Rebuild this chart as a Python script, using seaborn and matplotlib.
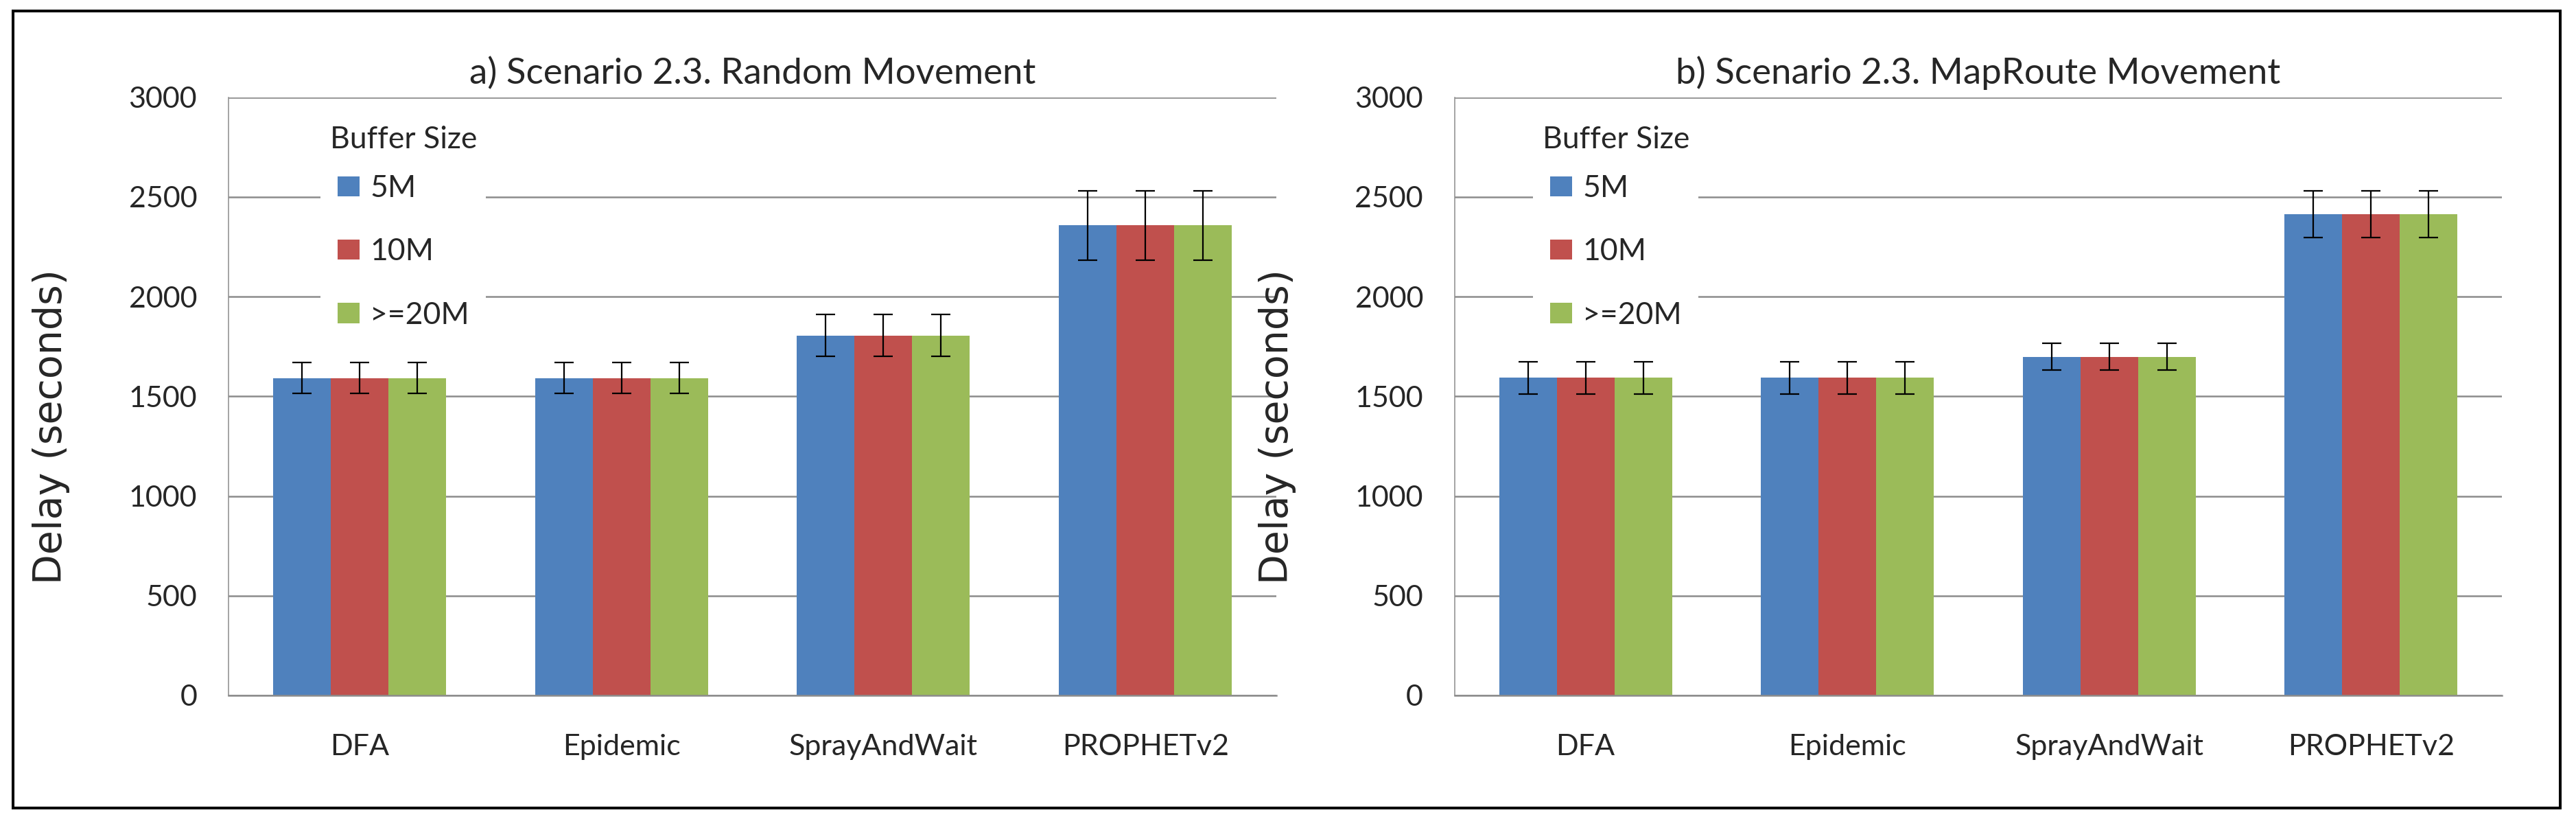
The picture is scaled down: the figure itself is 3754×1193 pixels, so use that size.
import matplotlib
matplotlib.use("Agg")
import matplotlib.pyplot as plt
from matplotlib.patches import Rectangle
from matplotlib.container import BarContainer
from matplotlib.ticker import FixedLocator, MultipleLocator
import pandas as pd
import seaborn as sns

# Categories
protocols = ["DFA", "Epidemic", "SprayAndWait", "PROPHETv2"]
buffer_sizes = ["5M", "10M", ">=20M"]

# a) Random Movement - mean delay (s) per buffer size, and error
random_5m = [1592, 1592, 1805, 2357]
random_10m = [1592, 1592, 1805, 2357]
random_20m = [1592, 1592, 1805, 2357]
random_err = [76, 76, 104, 173]

# b) MapRoute Movement
maproute_5m = [1593, 1593, 1698, 2414]
maproute_10m = [1593, 1593, 1698, 2414]
maproute_20m = [1593, 1593, 1698, 2414]
maproute_err = [80, 80, 67, 116]

titles = ["a) Scenario 2.3. Random Movement", "b) Scenario 2.3. MapRoute Movement"]
colors = ["#4F81BD", "#C0504D", "#9BBB59"]
grid_gray = "#8c8c8c"

sns.set_style("white")
plt.rcParams["font.family"] = ["Lato", "DejaVu Sans"]


def make_df(v5, v10, v20):
    rows = []
    for size, vals in zip(buffer_sizes, [v5, v10, v20]):
        for p, v in zip(protocols, vals):
            rows.append({"protocol": p, "buffer": size, "delay": v})
    return pd.DataFrame(rows)


panels = [
    (make_df(random_5m, random_10m, random_20m), random_err, titles[0]),
    (make_df(maproute_5m, maproute_10m, maproute_20m), maproute_err, titles[1]),
]

fig = plt.figure(figsize=(37.54, 11.93), dpi=100)
ax_rects = [[0.0887, 0.1509, 0.4068, 0.7304], [0.5647, 0.1509, 0.4065, 0.7304]]
legend_x = [0.088, 0.075]

for i, (df, errs, title) in enumerate(panels):
    ax = fig.add_axes(ax_rects[i])
    sns.barplot(data=df, x="protocol", y="delay", hue="buffer",
                order=protocols, hue_order=buffer_sizes, palette=colors,
                width=0.66, errorbar=None, saturation=1, linewidth=0, ax=ax)

    # error bars on top of each bar
    bar_groups = [c for c in ax.containers if isinstance(c, BarContainer)]
    for cont in bar_groups:
        for bar, err in zip(cont, errs):
            xc = bar.get_x() + bar.get_width() / 2
            ax.errorbar(xc, bar.get_height(), yerr=err, fmt="none",
                        ecolor="black", elinewidth=1.6, capsize=10, capthick=1.6,
                        zorder=5)

    ax.set_xlim(-0.5, 3.5)
    ax.set_ylim(0, 3000)
    ax.yaxis.set_major_locator(MultipleLocator(500))
    ax.xaxis.set_minor_locator(FixedLocator([-0.5, 0.5, 1.5, 2.5, 3.5]))

    ax.set_axisbelow(True)
    ax.yaxis.grid(True, color=grid_gray, linewidth=1.8)
    ax.xaxis.grid(False)

    for side in ["top", "right"]:
        ax.spines[side].set_visible(False)
    ax.spines["left"].set_color(grid_gray)
    ax.spines["left"].set_linewidth(1.1)
    ax.spines["bottom"].set_color(grid_gray)
    ax.spines["bottom"].set_linewidth(1.8)

    ax.tick_params(axis="y", direction="out", length=11, width=1.8,
                   color=grid_gray, pad=22, labelsize=31)
    ax.tick_params(axis="x", which="major", length=0, pad=40, labelsize=31)
    ax.tick_params(axis="x", which="minor", direction="out", length=12,
                   width=1.1, color=grid_gray)

    ax.set_xlabel("")
    ax.set_ylabel("Delay (seconds)", fontsize=41, fontfamily="DejaVu Sans")
    ax.yaxis.set_label_coords(-0.151, 0.449)
    ax.set_title(title, fontsize=38, pad=14)

    handles, labels = ax.get_legend_handles_labels()
    leg = ax.legend(handles, labels, title="Buffer Size", loc="upper left",
                    bbox_to_anchor=(legend_x[i], 0.968), frameon=True,
                    fancybox=False, edgecolor="none", facecolor="white",
                    framealpha=1, fontsize=32, title_fontsize=32,
                    handlelength=0.72, handleheight=0.63, handletextpad=0.35,
                    labelspacing=1.15, borderpad=0.3, borderaxespad=0)
    # tighter gap between legend title and first entry
    leg._legend_box.sep = 22

# outer frame
fig.patches.append(Rectangle((19 / 3754, 16 / 1193), (3731 - 19) / 3754,
                             (1177 - 16) / 1193, transform=fig.transFigure,
                             fill=False, edgecolor="black", linewidth=2.9))

fig.savefig("out.png", dpi=100)
